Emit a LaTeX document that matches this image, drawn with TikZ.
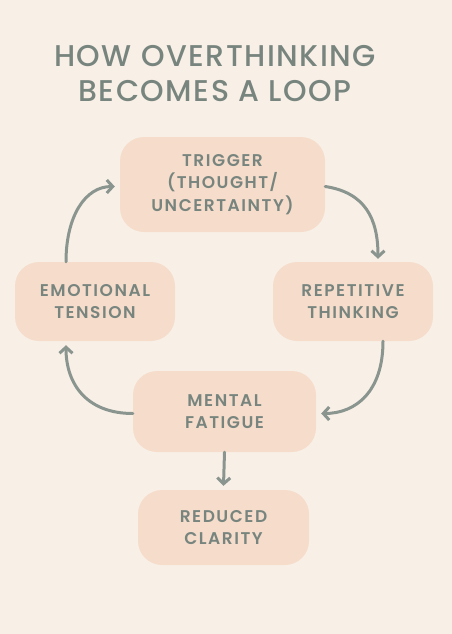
\documentclass[tikz,border=0pt]{standalone}
\usepackage{fontspec}
\setmainfont{Poppins}
\newfontfamily\titlefont{Poppins Medium}[LetterSpace=5]
\newfontfamily\boxfont{Poppins SemiBold}[LetterSpace=9]
\usetikzlibrary{arrows.meta}
\definecolor{bg}{HTML}{F8F0E7}
\definecolor{boxfill}{HTML}{F6DDCB}
\definecolor{txt}{HTML}{78857F}
\definecolor{arr}{HTML}{8A958F}
\tikzset{
  stage/.style={fill=boxfill, rounded corners=24pt, text=txt, align=center,
    font=\boxfont\fontsize{17}{22.5}\selectfont, inner sep=0pt},
  flow/.style={draw=arr, line width=3pt, -{Straight Barb[length=6pt,width=13pt,line width=3pt]}, line cap=round},
  ttl/.style={text=txt, align=center, font=\titlefont\fontsize{30}{35}\selectfont}
}
\begin{document}
\begin{tikzpicture}[x=1pt,y=-1pt]
\useasboundingbox[fill=bg] (0,0) rectangle (452,634);
\node[ttl] (title) at (215,74) {HOW OVERTHINKING\\BECOMES A LOOP};
\node[stage, minimum width=205pt, minimum height=95pt] (trig) at (222.5,184.5) {TRIGGER\\(THOUGHT/\\UNCERTAINTY)};
\node[stage, minimum width=160pt, minimum height=79pt] (rep) at (353,301.5) {REPETITIVE\\THINKING};
\node[stage, minimum width=160pt, minimum height=79pt] (emo) at (95,301.5) {EMOTIONAL\\TENSION};
\node[stage, minimum width=183pt, minimum height=81pt] (fat) at (224.5,411.5) {MENTAL\\FATIGUE};
\node[stage, minimum width=171pt, minimum height=75pt] (clar) at (223.5,527.5) {REDUCED\\CLARITY};
\draw[flow] ([yshift=-2pt]trig.east) .. controls +(40,6) and +(0,-40) .. ([xshift=25pt,yshift=3pt]rep.north);
\draw[flow] ([xshift=30pt]rep.south) .. controls +(0,50) and +(35,0) .. ([xshift=5pt,yshift=-2pt]fat.east);
\draw[flow] ([yshift=-2pt]fat.west) .. controls +(-45,0) and +(0,40) .. ([xshift=-29pt,yshift=-4pt]emo.south);
\draw[flow] ([xshift=-29pt]emo.north) .. controls +(0,-45) and +(-30,0) .. ([xshift=-5pt,yshift=-2pt]trig.west);
\draw[flow] (fat.south) -- ([yshift=4pt]clar.north);
\end{tikzpicture}
\end{document}
